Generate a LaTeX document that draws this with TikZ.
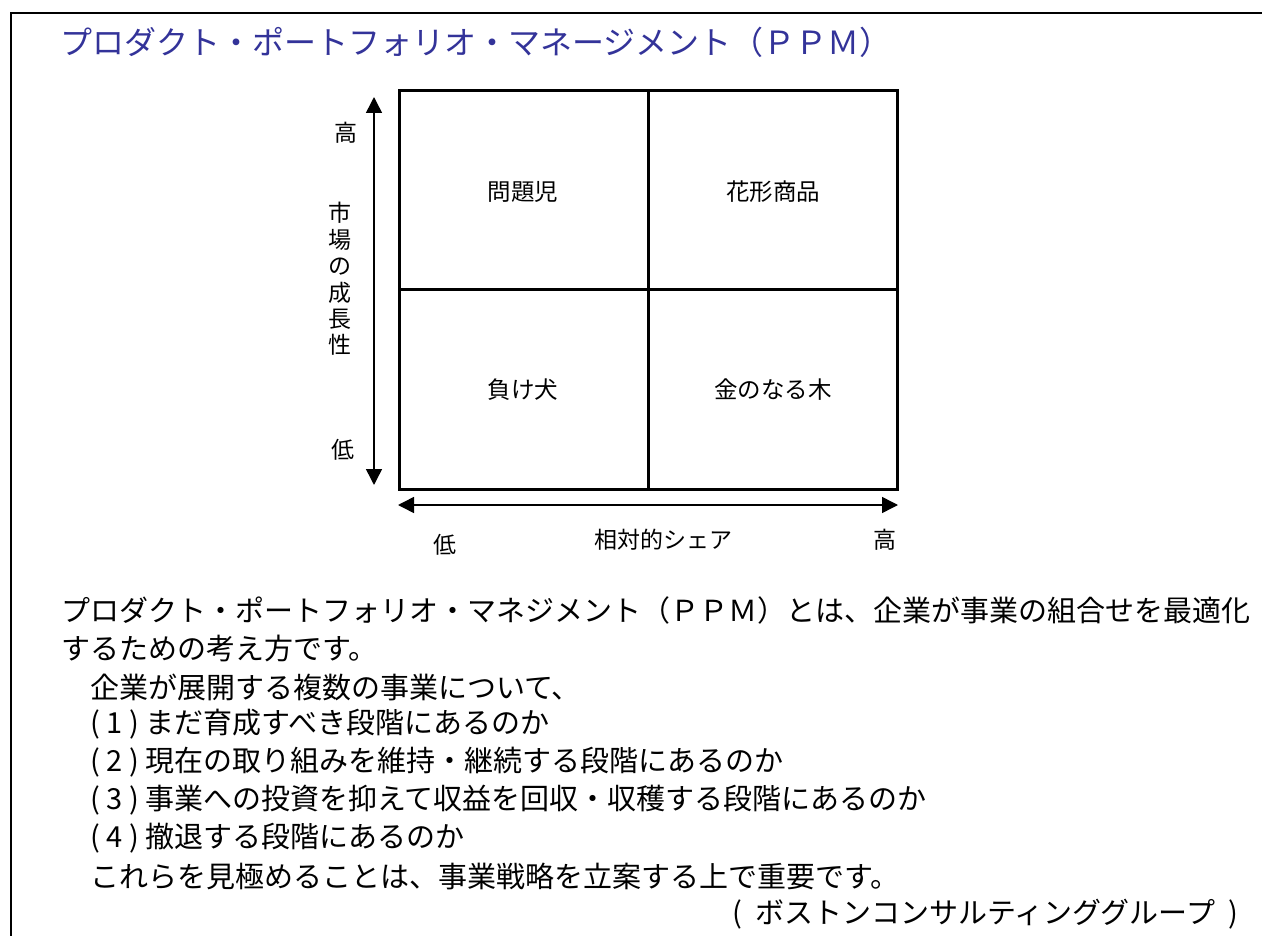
\documentclass[tikz,border=0pt]{standalone}
\usepackage{fontspec}
\setmainfont{Noto Sans CJK JP}
\usetikzlibrary{arrows.meta}
\definecolor{titleblue}{RGB}{51,51,153}
\begin{document}
\begin{tikzpicture}[x=1pt,y=-1pt,
  body/.style={anchor=west,inner sep=0pt,font=\fontsize{29}{29}\selectfont},
  cell/.style={inner sep=0pt,font=\fontsize{23.5}{23.5}\selectfont},
  axlab/.style={inner sep=0pt,font=\fontsize{23}{23}\selectfont},
  gridline/.style={line width=3pt},
  axisarrow/.style={line width=1.5pt,{Triangle[width=16pt,length=16pt]}-{Triangle[width=16pt,length=16pt]}}]
\useasboundingbox (0,0) rectangle (1262,936);
% frame
\coordinate (fbl) at (11,936);
\coordinate (ftl) at (11,13);
\coordinate (ftr) at (1262,13);
\draw[line width=2.5pt] (fbl) -- (ftl) -- (ftr);
% title
\node[anchor=west,inner sep=0pt,text=titleblue,font=\fontsize{32}{32}\selectfont] (title) at (60,42) {プロダクト・ポートフォリオ・マネージメント（ＰＰＭ）};
% matrix
\coordinate (mtl) at (399,91);
\coordinate (mbr) at (897,489);
\coordinate (mt) at (648,91);
\coordinate (mb) at (648,489);
\coordinate (ml) at (399,290);
\coordinate (mr) at (897,290);
\draw[gridline] (mtl) rectangle (mbr);
\draw[gridline] (mt) -- (mb);
\draw[gridline] (ml) -- (mr);
\node[cell] (q1) at (523,192) {問題児};
\node[cell] (q2) at (773,192) {花形商品};
\node[cell] (q3) at (523,390) {負け犬};
\node[cell] (q4) at (773,390) {金のなる木};
% axes
\coordinate (vtop) at (374,97);
\coordinate (vbot) at (374,485);
\draw[axisarrow] (vtop) -- (vbot);
\coordinate (hl) at (398,505);
\coordinate (hr) at (898,505);
\draw[axisarrow] (hl) -- (hr);
\node[axlab] (yhi) at (346,133) {高};
\node[axlab,align=center,font=\fontsize{23}{26.4}\selectfont] (ylab) at (340,279) {市\\場\\の\\成\\長\\性};
\node[axlab] (ylo) at (343,450) {低};
\node[axlab] (xlo) at (445,545) {低};
\node[axlab] (xlab) at (663,540) {相対的シェア};
\node[axlab] (xhi) at (885,540) {高};
% body text
\node[body] (b1) at (61,610) {プロダクト・ポートフォリオ・マネジメント（ＰＰＭ）とは、企業が事業の組合せを最適化};
\node[body] (b2) at (61,648) {するための考え方です。};
\node[body] (b3) at (90,687) {企業が展開する複数の事業について、};
\node[body] (b4) at (90,724) {(~1~)~まだ育成すべき段階にあるのか};
\node[body] (b5) at (90,762) {(~2~)~現在の取り組みを維持・継続する段階にあるのか};
\node[body] (b6) at (90,800) {(~3~)~事業への投資を抑えて収益を回収・収穫する段階にあるのか};
\node[body] (b7) at (90,838) {(~4~)~撤退する段階にあるのか};
\node[body] (b8) at (90,876) {これらを見極めることは、事業戦略を立案する上で重要です。};
\node[body,anchor=east] (b9) at (1238,914) {(~~ボストンコンサルティンググループ~~)};
\end{tikzpicture}
\end{document}
